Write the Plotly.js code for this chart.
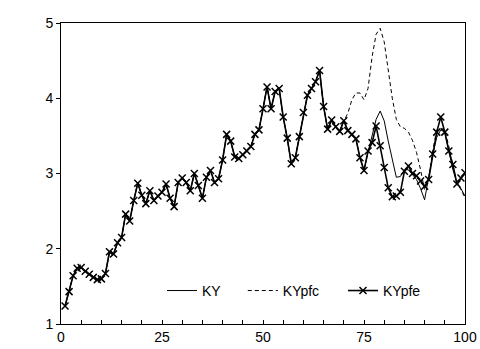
<!DOCTYPE html>
<html>
<head>
<meta charset="utf-8">
<script src="https://cdn.plot.ly/plotly-3.0.1.min.js"></script>
<style>html,body{margin:0;padding:0;background:#fff;}#chart{width:480px;height:349px;}</style>
</head>
<body>
<div id="chart"></div>
<script>
const t = Array.from({length: 100}, (_, i) => i + 1);

// shared history (t = 1..70)
const common = [
  1.24, 1.43, 1.64, 1.74, 1.75, 1.70, 1.66, 1.62, 1.59, 1.60,
  1.67, 1.96, 1.93, 2.08, 2.15, 2.46, 2.37, 2.64, 2.87, 2.71,
  2.60, 2.77, 2.64, 2.70, 2.75, 2.86, 2.67, 2.56, 2.88, 2.94,
  2.88, 2.77, 3.00, 2.84, 2.67, 2.95, 3.04, 2.88, 2.93, 3.18,
  3.52, 3.43, 3.22, 3.20, 3.25, 3.30, 3.36, 3.52, 3.58, 3.86,
  4.15, 3.86, 4.09, 4.13, 3.75, 3.47, 3.13, 3.21, 3.49, 3.81,
  4.04, 4.13, 4.22, 4.37, 3.89, 3.59, 3.71, 3.62, 3.56, 3.70
];

// t = 71..100
const kyTail = [
  3.57, 3.52, 3.46, 3.21, 3.04, 3.28, 3.50, 3.72, 3.83, 3.70,
  3.43, 3.18, 2.95, 2.96, 3.05, 3.05, 2.98, 2.92, 2.80, 2.65,
  2.95, 3.25, 3.48, 3.58, 3.55, 3.30, 3.05, 2.88, 2.80, 2.70
];
const pfcTail = [
  3.80, 3.98, 4.07, 4.07, 3.98, 4.13, 4.55, 4.85, 4.93, 4.75,
  4.37, 4.00, 3.72, 3.62, 3.60, 3.55, 3.44, 3.28, 3.05, 2.78,
  2.93, 3.30, 3.58, 3.60, 3.58, 3.36, 3.08, 2.90, 2.78, 2.68
];
const pfeTail = [
  3.57, 3.52, 3.46, 3.21, 3.04, 3.30, 3.41, 3.63, 3.37, 3.08,
  2.81, 2.69, 2.70, 2.75, 3.03, 3.10, 3.00, 2.97, 2.90, 2.83,
  2.92, 3.26, 3.55, 3.75, 3.55, 3.30, 3.12, 2.86, 2.94, 3.01
];

const KY = common.concat(kyTail);
const KYpfc = common.concat(pfcTail);
const KYpfe = common.concat(pfeTail);

const seriesNames = ["KY", "KYpfc", "KYpfe"];
const xTicks = [0, 25, 50, 75, 100];
const yTicks = [1, 2, 3, 4, 5];

const data = [
  {x: t, y: KY, name: seriesNames[0], type: "scatter", mode: "lines", legend: "legend",
   line: {color: "#000", width: 1}},
  {x: t, y: KYpfc, name: seriesNames[1], type: "scatter", mode: "lines", legend: "legend2",
   line: {color: "#000", width: 1, dash: "4px,3px"}},
  {x: t, y: KYpfe, name: seriesNames[2], type: "scatter", mode: "lines+markers", legend: "legend3",
   line: {color: "#000", width: 1.6},
   marker: {symbol: "x-thin", size: 7, color: "#000", line: {color: "#000", width: 1.5}}}
];

function leg(x) {
  return {orientation: "h", x: x, y: 0.163, xanchor: "left", yanchor: "top",
          bgcolor: "rgba(0,0,0,0)", borderwidth: 0, font: {size: 14}};
}

const layout = {
  width: 480, height: 349,
  margin: {l: 61, r: 15, t: 23, b: 25},
  paper_bgcolor: "#fff", plot_bgcolor: "#fff",
  font: {family: "Liberation Sans, Arial, sans-serif", size: 14, color: "#000"},
  showlegend: true,
  legend: leg(0.250),
  legend2: leg(0.450),
  legend3: leg(0.698),
  xaxis: {range: [0, 100], tickvals: xTicks, ticktext: xTicks.map(String),
          showgrid: false, zeroline: false, showline: true, linecolor: "#000", linewidth: 1,
          mirror: true, ticks: "inside", ticklen: 4, tickcolor: "#000",
          minor: {dtick: 5, tick0: 0, ticks: "inside", ticklen: 4, tickcolor: "#000", showgrid: false},
          tickfont: {size: 14}},
  yaxis: {range: [1, 5], tickvals: yTicks, ticktext: yTicks.map(String),
          showgrid: false, zeroline: false, showline: true, linecolor: "#000", linewidth: 1,
          mirror: true, ticks: "outside", ticklen: 4, tickcolor: "#000",
          tickfont: {size: 14}}
};

Plotly.newPlot("chart", data, layout, {displayModeBar: false, staticPlot: true});
</script>
</body>
</html>
